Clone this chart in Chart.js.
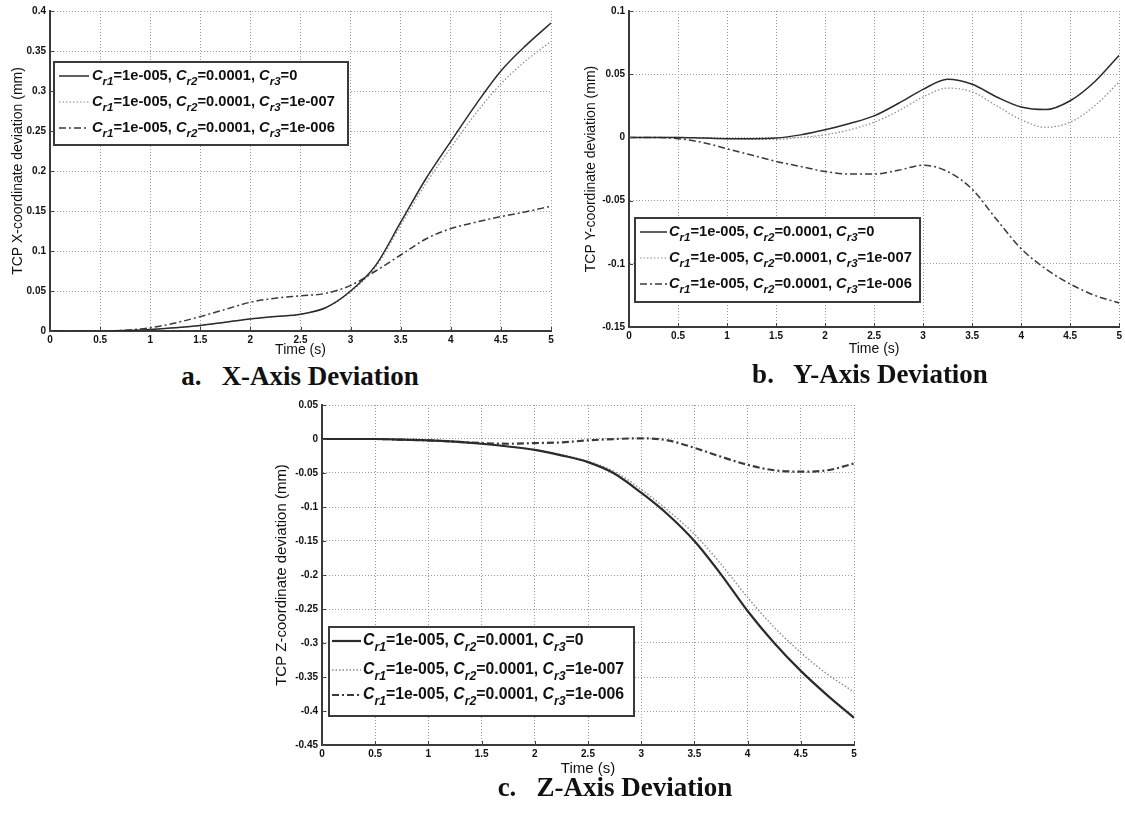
<!DOCTYPE html>
<html>
<head>
<meta charset="utf-8">
<script src="https://cdn.jsdelivr.net/npm/chart.js@4.4.1/dist/chart.umd.min.js"></script>
<style>
  html, body { margin: 0; padding: 0; background: #fff; }
  body { width: 1125px; height: 814px; position: relative; overflow: hidden; }
  canvas { position: absolute; }
  .caption {
    position: absolute;
    font-family: 'Liberation Serif', 'Times New Roman', serif;
    font-weight: bold;
    font-size: 27px;
    color: #111;
    white-space: pre;
    text-align: center;
  }
</style>
</head>
<body>
<canvas id="chartX" width="565" height="360" style="left:0;top:0"></canvas>
<canvas id="chartY" width="560" height="360" style="left:565px;top:0"></canvas>
<canvas id="chartZ" width="610" height="385" style="left:260px;top:395px"></canvas>
<div class="caption" style="left:150px;top:361px;width:300px">a.   X-Axis Deviation</div>
<div class="caption" style="left:720px;top:359px;width:300px">b.   Y-Axis Deviation</div>
<div class="caption" style="left:465px;top:772px;width:300px">c.   Z-Axis Deviation</div>
<script>
// simulation time (s)
const TIME = [0, 0.25, 0.5, 0.75, 1, 1.25, 1.5, 1.75, 2, 2.25, 2.5, 2.75, 3, 3.25, 3.5, 3.75, 4, 4.25, 4.5, 4.75, 5];

// coefficient values shown in the legends
const CR1 = '1e-005';
const CR2 = '0.0001';
const CR3 = ['0', '1e-007', '1e-006'];

// TCP X-coordinate deviation (mm)
const X_CR3_0   = [0, 0, 0, 0.0005, 0.002, 0.004, 0.007, 0.011, 0.015, 0.018, 0.021, 0.029, 0.05, 0.082, 0.136, 0.19, 0.237, 0.283, 0.325, 0.357, 0.385];
const X_CR3_1E7 = [0, 0, 0, 0.0005, 0.002, 0.004, 0.007, 0.011, 0.015, 0.018, 0.021, 0.029, 0.049, 0.08, 0.132, 0.184, 0.229, 0.272, 0.309, 0.338, 0.362];
const X_CR3_1E6 = [0, 0, 0, 0.001, 0.004, 0.01, 0.018, 0.027, 0.036, 0.041, 0.044, 0.047, 0.057, 0.075, 0.095, 0.115, 0.128, 0.136, 0.143, 0.149, 0.156];

// TCP Y-coordinate deviation (mm)
const Y_CR3_0   = [0, 0, 0, -0.0005, -0.001, -0.001, -0.0005, 0.002, 0.006, 0.011, 0.017, 0.027, 0.038, 0.046, 0.042, 0.032, 0.024, 0.022, 0.029, 0.044, 0.065];
const Y_CR3_1E7 = [0, 0, 0, -0.0005, -0.001, -0.0015, -0.0015, 0, 0.002, 0.006, 0.012, 0.021, 0.032, 0.039, 0.036, 0.025, 0.014, 0.008, 0.012, 0.025, 0.044];
const Y_CR3_1E6 = [0, 0, -0.001, -0.004, -0.009, -0.014, -0.019, -0.023, -0.027, -0.029, -0.029, -0.026, -0.022, -0.027, -0.041, -0.065, -0.088, -0.104, -0.116, -0.125, -0.131];

// TCP Z-coordinate deviation (mm)
const Z_CR3_0   = [0, 0, 0, -0.001, -0.002, -0.004, -0.007, -0.011, -0.016, -0.024, -0.034, -0.051, -0.079, -0.111, -0.15, -0.199, -0.253, -0.3, -0.341, -0.377, -0.41];
const Z_CR3_1E7 = [0, 0, 0, -0.001, -0.002, -0.004, -0.007, -0.011, -0.016, -0.023, -0.033, -0.048, -0.074, -0.105, -0.14, -0.184, -0.233, -0.277, -0.314, -0.346, -0.372];
const Z_CR3_1E6 = [0, 0, 0, -0.001, -0.002, -0.004, -0.006, -0.007, -0.006, -0.005, -0.002, 0, 0.001, -0.002, -0.013, -0.026, -0.038, -0.046, -0.048, -0.046, -0.036];

const SANS = "'Liberation Sans', Arial, sans-serif";

const toPoints = (ys) => TIME.map((t, i) => ({ x: t, y: ys[i] }));

// solid, dotted and dash-dot curves
const lineStyles = (heavy) => [
  { borderColor: '#2b2b2b', borderWidth: heavy ? 2.2 : 1.5, borderDash: [] },
  { borderColor: '#8a8a8a', borderWidth: heavy ? 1.4 : 1.2, borderDash: [1.5, 2] },
  { borderColor: '#3a3a3a', borderWidth: heavy ? 2.2 : 1.5, borderDash: [7, 3, 2, 3] },
];

// small inward tick marks on the left and bottom axes
const innerTicks = {
  id: 'innerTicks',
  afterDatasetsDraw(chart) {
    const { ctx, chartArea, scales } = chart;
    ctx.save();
    ctx.strokeStyle = '#444';
    ctx.lineWidth = 1;
    ctx.beginPath();
    scales.x.ticks.forEach((t) => {
      const px = Math.round(scales.x.getPixelForValue(t.value)) + 0.5;
      ctx.moveTo(px, chartArea.bottom);
      ctx.lineTo(px, chartArea.bottom - 4);
    });
    scales.y.ticks.forEach((t) => {
      const py = Math.round(scales.y.getPixelForValue(t.value)) + 0.5;
      ctx.moveTo(chartArea.left, py);
      ctx.lineTo(chartArea.left + 4, py);
    });
    ctx.stroke();
    ctx.restore();
  },
};

// boxed legend with italic C and subscripts
const subLegend = {
  id: 'subLegend',
  afterDraw(chart, args, opts) {
    const ctx = chart.ctx;
    const [bx, by, bw, bh] = opts.box;
    const size = opts.size;
    ctx.save();
    ctx.fillStyle = '#fff';
    ctx.fillRect(bx, by, bw, bh);
    ctx.lineWidth = 2;
    ctx.strokeStyle = '#3a3a3a';
    ctx.strokeRect(bx, by, bw, bh);

    chart.data.datasets.forEach((ds, i) => {
      const y = opts.rows[i];
      ctx.beginPath();
      ctx.setLineDash(ds.borderDash);
      ctx.lineWidth = ds.borderWidth;
      ctx.strokeStyle = ds.borderColor;
      ctx.moveTo(opts.line[0], y);
      ctx.lineTo(opts.line[1], y);
      ctx.stroke();
      ctx.setLineDash([]);

      const parts = [
        ['C', 'i'], ['r1', 's'], ['=' + CR1 + ', ', 'n'],
        ['C', 'i'], ['r2', 's'], ['=' + CR2 + ', ', 'n'],
        ['C', 'i'], ['r3', 's'], ['=' + CR3[i], 'n'],
      ];
      let x = opts.textX;
      ctx.fillStyle = '#111';
      ctx.textBaseline = 'middle';
      ctx.textAlign = 'left';
      parts.forEach(([txt, kind]) => {
        if (kind === 's') {
          ctx.font = `italic bold ${(size * 0.78).toFixed(1)}px ${SANS}`;
          ctx.fillText(txt, x, y + size * 0.42);
        } else {
          ctx.font = `${kind === 'i' ? 'italic ' : ''}bold ${size}px ${SANS}`;
          ctx.fillText(txt, x, y);
        }
        x += ctx.measureText(txt).width;
      });
    });
    ctx.restore();
  },
};

function makeChart(id, series, cfg) {
  const styles = lineStyles(cfg.heavy);
  const datasets = series.map((ys, i) => ({
    label: 'Cr1=' + CR1 + ', Cr2=' + CR2 + ', Cr3=' + CR3[i],
    data: toPoints(ys),
    borderColor: styles[i].borderColor,
    borderWidth: styles[i].borderWidth,
    borderDash: styles[i].borderDash,
    pointRadius: 0,
    fill: false,
    cubicInterpolationMode: 'monotone',
  }));
  const grid = { color: '#9a9a9a', lineWidth: 1, drawTicks: false };
  const border = { display: true, color: '#3a3a3a', width: 2, dash: [1, 2] };
  return new Chart(document.getElementById(id), {
    type: 'line',
    data: { datasets },
    plugins: [innerTicks, subLegend],
    options: {
      responsive: false,
      animation: false,
      layout: { padding: cfg.padding },
      scales: {
        x: {
          type: 'linear',
          min: 0,
          max: 5,
          grid,
          border,
          ticks: {
            stepSize: 0.5,
            padding: 3,
            color: '#111',
            font: { family: SANS, size: 10, weight: 'bold' },
            maxRotation: 0,
            callback: (v) => String(+v.toFixed(2)),
          },
          title: {
            display: true,
            text: 'Time (s)',
            color: '#111',
            font: { family: SANS, size: cfg.titleSize },
            padding: { top: 0, bottom: cfg.xTitlePad },
          },
          afterFit: (s) => { s.height = cfg.xHeight; },
        },
        y: {
          min: cfg.yMin,
          max: cfg.yMax,
          grid,
          border,
          ticks: {
            stepSize: 0.05,
            padding: 4,
            color: '#111',
            font: { family: SANS, size: 10, weight: 'bold' },
            callback: (v) => String(+v.toFixed(2)),
          },
          title: {
            display: true,
            text: cfg.yTitle,
            color: '#111',
            font: { family: SANS, size: cfg.titleSize },
            padding: { top: cfg.yTitlePad, bottom: 0 },
          },
          afterFit: (s) => { s.width = cfg.yWidth; },
        },
      },
      plugins: {
        legend: { display: false },
        tooltip: { enabled: false },
        subLegend: cfg.legend,
      },
    },
  });
}

makeChart('chartX', [X_CR3_0, X_CR3_1E7, X_CR3_1E6], {
  yMin: 0, yMax: 0.4,
  yTitle: 'TCP X-coordinate deviation (mm)',
  padding: { left: 0, right: 14, top: 11, bottom: 0 },
  yWidth: 50, xHeight: 29, yTitlePad: 10, xTitlePad: 1, titleSize: 14,
  legend: { box: [54, 62, 294, 83], rows: [76, 102, 128], line: [59, 89], textX: 92, size: 14.7 },
});

makeChart('chartY', [Y_CR3_0, Y_CR3_1E7, Y_CR3_1E6], {
  yMin: -0.15, yMax: 0.1,
  yTitle: 'TCP Y-coordinate deviation (mm)',
  padding: { left: 0, right: 3, top: 11, bottom: 0 },
  yWidth: 64, xHeight: 33, yTitlePad: 18, xTitlePad: 2, titleSize: 14,
  legend: { box: [70, 218, 285, 84], rows: [232, 258, 284], line: [75, 102], textX: 104, size: 14.7 },
});

makeChart('chartZ', [Z_CR3_0, Z_CR3_1E7, Z_CR3_1E6], {
  yMin: -0.45, yMax: 0.05,
  yTitle: 'TCP Z-coordinate deviation (mm)',
  padding: { left: 0, right: 16, top: 7, bottom: 0 },
  yWidth: 62, xHeight: 35, yTitlePad: 13, xTitlePad: 2, titleSize: 15,
  heavy: true,
  legend: { box: [69, 232, 305, 89], rows: [246, 275, 300], line: [72, 101], textX: 103, size: 15.8 },
});
</script>
</body>
</html>
